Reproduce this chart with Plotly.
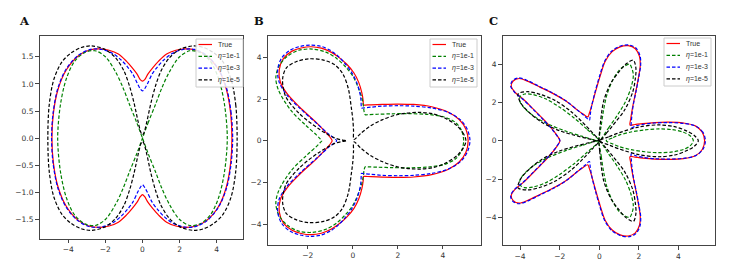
import plotly.graph_objects as go

# The page body keeps the browser's default 8px margin, so the figure is drawn
# 16px smaller and all page-pixel positions are shifted by that offset.
PAGE_W, PAGE_H = 730, 268
OFF = 8
W, H = PAGE_W - 2 * OFF, PAGE_H - 2 * OFF

# ------------------------------------------------------------------ data
# Panel A (peanut / figure-eight shapes)
A_true = [(4.82,0.0),(4.75,0.46),(4.52,0.90),(4.10,1.26),(3.45,1.52),(2.85,1.625),(2.30,1.645),(1.80,1.62),(1.30,1.55),(0.87,1.42),(0.56,1.30),(0.29,1.18),(0.12,1.08),(0.0,1.05),
          (-0.12,1.08),(-0.29,1.18),(-0.56,1.30),(-0.87,1.42),(-1.30,1.55),(-1.80,1.62),(-2.30,1.645),(-2.85,1.625),(-3.45,1.52),(-4.10,1.26),(-4.55,0.90),(-4.80,0.46),(-4.88,0.0),
          (-4.80,-0.46),(-4.55,-0.90),(-4.10,-1.26),(-3.45,-1.52),(-2.85,-1.625),(-2.30,-1.645),(-1.80,-1.62),(-1.30,-1.55),(-0.87,-1.42),(-0.56,-1.30),(-0.29,-1.18),(-0.12,-1.08),(0.0,-1.04),
          (0.12,-1.08),(0.29,-1.18),(0.56,-1.30),(0.87,-1.42),(1.30,-1.55),(1.80,-1.62),(2.30,-1.645),(2.85,-1.625),(3.45,-1.52),(4.10,-1.26),(4.52,-0.90),(4.75,-0.46),(4.82,0.0)]
A_eta1 = [(0,0),(0.30,0.28),(0.70,0.62),(1.05,0.93),(1.45,1.22),(2.00,1.50),(2.55,1.61),(3.10,1.58),(3.65,1.42),(4.10,1.10),(4.42,0.62),(4.57,0),
          (4.42,-0.62),(4.10,-1.10),(3.65,-1.42),(3.10,-1.58),(2.55,-1.61),(2.00,-1.50),(1.45,-1.22),(1.05,-0.93),(0.70,-0.62),(0.30,-0.28),(0,0),
          (-0.30,0.28),(-0.70,0.62),(-1.05,0.93),(-1.45,1.22),(-2.00,1.50),(-2.55,1.61),(-3.10,1.58),(-3.65,1.42),(-4.10,1.10),(-4.42,0.62),(-4.57,0),
          (-4.42,-0.62),(-4.10,-1.10),(-3.65,-1.42),(-3.10,-1.58),(-2.55,-1.61),(-2.00,-1.50),(-1.45,-1.22),(-1.05,-0.93),(-0.70,-0.62),(-0.30,-0.28),(0,0)]
A_eta3 = [(4.86,0),(4.78,0.46),(4.54,0.91),(4.10,1.27),(3.45,1.53),(2.80,1.635),(2.20,1.635),(1.60,1.56),(1.15,1.44),(0.80,1.31),(0.52,1.18),(0.25,0.99),(0.12,0.91),(0,0.87),
          (-0.12,0.91),(-0.25,0.99),(-0.52,1.18),(-0.80,1.31),(-1.15,1.44),(-1.60,1.56),(-2.20,1.635),(-2.80,1.635),(-3.45,1.53),(-4.12,1.27),(-4.57,0.91),(-4.82,0.46),(-4.90,0),
          (-4.82,-0.46),(-4.57,-0.91),(-4.12,-1.27),(-3.45,-1.53),(-2.80,-1.635),(-2.20,-1.635),(-1.60,-1.56),(-1.15,-1.44),(-0.80,-1.31),(-0.52,-1.18),(-0.25,-0.99),(-0.12,-0.91),(0,-0.86),
          (0.12,-0.91),(0.25,-0.99),(0.52,-1.18),(0.80,-1.31),(1.15,-1.44),(1.60,-1.56),(2.20,-1.635),(2.80,-1.635),(3.45,-1.53),(4.10,-1.27),(4.54,-0.91),(4.78,-0.46),(4.86,0)]
A_eta5 = [(5.10,0),(5.03,0.60),(4.78,1.08),(4.35,1.40),(3.85,1.57),(3.30,1.67),(2.75,1.70),(2.05,1.64),(1.45,1.48),(1.00,1.24),(0.70,0.96),(0.45,0.64),(0.22,0.28),(0.08,0.10),(0,0.06),
          (-0.08,0.10),(-0.22,0.28),(-0.45,0.64),(-0.70,0.96),(-1.00,1.24),(-1.45,1.48),(-2.05,1.64),(-2.75,1.70),(-3.30,1.67),(-3.85,1.57),(-4.35,1.40),(-4.78,1.08),(-5.03,0.60),(-5.10,0),
          (-5.03,-0.60),(-4.78,-1.08),(-4.35,-1.40),(-3.85,-1.57),(-3.30,-1.67),(-2.75,-1.70),(-2.05,-1.64),(-1.45,-1.48),(-1.00,-1.24),(-0.70,-0.96),(-0.45,-0.64),(-0.22,-0.28),(-0.08,-0.10),(0,-0.06),
          (0.08,-0.10),(0.22,-0.28),(0.45,-0.64),(0.70,-0.96),(1.00,-1.24),(1.45,-1.48),(2.05,-1.64),(2.75,-1.70),(3.30,-1.67),(3.85,-1.57),(4.35,-1.40),(4.78,-1.08),(5.03,-0.60),(5.10,0)]

# Panel B (three-lobed shapes)
B_true = [(5.12,0),(5.02,0.55),(4.72,1.02),(4.22,1.38),(3.50,1.63),(2.70,1.74),(2.00,1.76),(1.30,1.745),(0.80,1.725),(0.55,1.712),(0.47,1.71),
          (0.46,1.90),(0.40,2.30),(0.26,2.80),(0.05,3.25),(-0.28,3.68),(-0.62,4.00),(-0.95,4.24),(-1.40,4.44),(-1.85,4.51),(-2.30,4.45),(-2.70,4.30),(-3.08,3.95),(-3.27,3.40),(-3.22,2.82),(-2.92,2.26),(-2.37,1.62),(-1.63,0.88),(-1.20,0.40),(-0.98,0.12),(-0.92,0),
          (-0.98,-0.12),(-1.20,-0.40),(-1.63,-0.88),(-2.37,-1.62),(-2.92,-2.26),(-3.22,-2.82),(-3.27,-3.40),(-3.08,-3.95),(-2.70,-4.30),(-2.30,-4.45),(-1.85,-4.51),(-1.40,-4.44),(-0.95,-4.24),(-0.62,-4.00),(-0.28,-3.68),(0.05,-3.25),(0.26,-2.80),(0.40,-2.30),(0.46,-1.90),
          (0.47,-1.71),(0.55,-1.712),(0.80,-1.725),(1.30,-1.745),(2.00,-1.76),(2.70,-1.74),(3.50,-1.63),(4.22,-1.38),(4.72,-1.02),(5.02,-0.55),(5.12,0)]
B_eta1 = [(4.92,0),(4.82,0.50),(4.55,0.88),(4.05,1.14),(3.35,1.26),(2.50,1.30),(1.70,1.29),(1.10,1.27),(0.70,1.255),(0.55,1.25),
          (0.50,1.40),(0.46,1.75),(0.40,2.05),(0.22,2.60),(0.00,3.10),(-0.33,3.55),(-0.72,3.95),(-1.20,4.25),(-1.80,4.40),(-2.40,4.34),(-2.90,4.06),(-3.28,3.58),(-3.42,3.02),(-3.30,2.42),(-2.74,1.44),(-2.07,0.72),(-1.62,0.28),(-1.44,0.08),(-1.38,0),
          (-1.44,-0.08),(-1.62,-0.28),(-2.07,-0.72),(-2.74,-1.44),(-3.30,-2.42),(-3.42,-3.02),(-3.28,-3.58),(-2.90,-4.06),(-2.40,-4.34),(-1.80,-4.40),(-1.20,-4.25),(-0.72,-3.95),(-0.33,-3.55),(0.00,-3.10),(0.22,-2.60),(0.40,-2.05),(0.46,-1.75),(0.50,-1.40),
          (0.55,-1.25),(0.70,-1.255),(1.10,-1.27),(1.70,-1.29),(2.50,-1.30),(3.35,-1.26),(4.05,-1.14),(4.55,-0.88),(4.82,-0.50),(4.92,0)]
B_eta3 = [(5.20,0),(5.08,0.55),(4.78,1.00),(4.26,1.35),(3.50,1.57),(2.70,1.66),(2.00,1.68),(1.30,1.66),(0.80,1.61),(0.50,1.58),(0.38,1.57),
          (0.37,1.70),(0.36,1.95),(0.31,2.30),(0.17,2.80),(-0.05,3.27),(-0.37,3.73),(-0.68,4.08),(-0.98,4.32),(-1.42,4.53),(-1.90,4.59),(-2.36,4.52),(-2.76,4.36),(-3.16,3.97),(-3.34,3.40),(-3.27,2.80),(-2.95,2.22),(-2.35,1.55),(-1.60,0.83),(-1.08,0.32),(-0.80,0.09),(-0.72,0),
          (-0.80,-0.09),(-1.08,-0.32),(-1.60,-0.83),(-2.35,-1.55),(-2.95,-2.22),(-3.27,-2.80),(-3.34,-3.40),(-3.16,-3.97),(-2.76,-4.36),(-2.36,-4.52),(-1.90,-4.59),(-1.42,-4.53),(-0.98,-4.32),(-0.68,-4.08),(-0.37,-3.73),(-0.05,-3.27),(0.17,-2.80),(0.31,-2.30),(0.36,-1.95),(0.37,-1.70),
          (0.38,-1.57),(0.50,-1.58),(0.80,-1.61),(1.30,-1.66),(2.00,-1.68),(2.70,-1.66),(3.50,-1.57),(4.26,-1.35),(4.78,-1.00),(5.08,-0.55),(5.20,0)]
B_eta5 = [(5.02,0),(4.92,0.32),(4.62,0.72),(4.10,1.08),(3.60,1.28),(2.95,1.36),(2.00,1.26),(1.30,1.00),(0.77,0.70),(0.35,0.35),(0.05,0.06),
          (0.03,0.50),(0.00,1.00),(-0.07,1.60),(-0.20,2.50),(-0.45,3.22),(-0.80,3.64),(-1.30,3.87),(-1.95,3.93),(-2.50,3.80),(-2.95,3.50),(-3.12,2.95),(-2.98,2.12),(-2.37,1.30),(-1.50,0.56),(-0.80,0.13),(-0.45,0.03),(-0.28,0),
          (-0.45,-0.03),(-0.80,-0.13),(-1.50,-0.56),(-2.37,-1.30),(-2.98,-2.12),(-3.12,-2.95),(-2.95,-3.50),(-2.50,-3.80),(-1.95,-3.93),(-1.30,-3.87),(-0.80,-3.64),(-0.45,-3.22),(-0.20,-2.50),(-0.07,-1.60),(0.00,-1.00),(0.03,-0.50),
          (0.05,-0.06),(0.35,-0.35),(0.77,-0.70),(1.30,-1.00),(2.00,-1.26),(2.95,-1.36),(3.60,-1.28),(4.10,-1.08),(4.62,-0.72),(4.92,-0.32),(5.02,0)]

# Panel C (five-petal shapes)
C_true = [(5.32,0),(5.20,0.45),(4.85,0.78),(4.25,0.93),(3.50,0.97),(2.80,0.95),(2.20,0.90),(1.80,0.85),(1.55,0.82),
          (1.58,1.10),(1.64,1.50),(1.72,1.95),(1.85,2.60),(1.98,3.30),(2.07,3.95),(2.03,4.40),(1.82,4.80),(1.46,4.96),(1.05,4.90),(0.65,4.65),(0.30,4.15),(0.05,3.40),(-0.18,2.60),(-0.38,1.85),(-0.50,1.45),(-0.58,1.25),
          (-0.80,1.38),(-1.10,1.60),(-1.65,2.05),(-2.40,2.50),(-3.00,2.80),(-3.60,3.10),(-4.05,3.25),(-4.35,3.12),(-4.45,2.85),(-4.25,2.52),(-3.85,2.18),(-3.33,1.65),(-2.85,1.15),(-2.45,0.70),(-2.15,0.30),(-1.99,0),
          (-2.15,-0.30),(-2.45,-0.70),(-2.85,-1.15),(-3.33,-1.65),(-3.85,-2.18),(-4.25,-2.52),(-4.45,-2.85),(-4.35,-3.12),(-4.05,-3.25),(-3.60,-3.10),(-3.00,-2.80),(-2.40,-2.50),(-1.65,-2.05),(-1.10,-1.60),(-0.80,-1.38),
          (-0.58,-1.25),(-0.50,-1.45),(-0.38,-1.85),(-0.18,-2.60),(0.05,-3.40),(0.30,-4.15),(0.65,-4.65),(1.05,-4.90),(1.46,-4.96),(1.82,-4.80),(2.03,-4.40),(2.07,-3.95),(1.98,-3.30),(1.85,-2.60),(1.72,-1.95),(1.64,-1.50),(1.58,-1.10),
          (1.55,-0.82),(1.80,-0.85),(2.20,-0.90),(2.80,-0.95),(3.50,-0.97),(4.25,-0.93),(4.85,-0.78),(5.20,-0.45),(5.32,0)]
C_eta3 = [(5.36,0),(5.23,0.45),(4.87,0.77),(4.25,0.91),(3.50,0.95),(2.80,0.93),(2.20,0.86),(1.85,0.78),(1.62,0.68),
          (1.62,1.00),(1.66,1.45),(1.73,1.95),(1.86,2.60),(1.99,3.30),(2.09,3.95),(2.06,4.42),(1.85,4.84),(1.47,5.00),(1.04,4.93),(0.62,4.67),(0.27,4.15),(0.02,3.40),(-0.20,2.60),(-0.38,1.85),(-0.46,1.35),(-0.50,1.08),
          (-0.75,1.30),(-1.08,1.58),(-1.65,2.06),(-2.40,2.52),(-3.00,2.82),(-3.60,3.13),(-4.07,3.28),(-4.38,3.14),(-4.48,2.86),(-4.27,2.52),(-3.86,2.17),(-3.33,1.63),(-2.85,1.12),(-2.45,0.68),(-2.15,0.28),(-1.99,0),
          (-2.15,-0.28),(-2.45,-0.68),(-2.85,-1.12),(-3.33,-1.63),(-3.86,-2.17),(-4.27,-2.52),(-4.48,-2.86),(-4.38,-3.14),(-4.07,-3.28),(-3.60,-3.13),(-3.00,-2.82),(-2.40,-2.52),(-1.65,-2.06),(-1.08,-1.58),(-0.75,-1.30),
          (-0.50,-1.08),(-0.46,-1.35),(-0.38,-1.85),(-0.20,-2.60),(0.02,-3.40),(0.27,-4.15),(0.62,-4.67),(1.04,-4.93),(1.47,-5.00),(1.85,-4.84),(2.06,-4.42),(2.09,-3.95),(1.99,-3.30),(1.86,-2.60),(1.73,-1.95),(1.66,-1.45),(1.62,-1.00),
          (1.62,-0.68),(1.85,-0.78),(2.20,-0.86),(2.80,-0.93),(3.50,-0.95),(4.25,-0.91),(4.87,-0.77),(5.23,-0.45),(5.36,0)]
C_eta1_petals = [
    [(0.35,0),(0.70,0.17),(1.00,0.30),(1.60,0.46),(2.30,0.57),(3.00,0.62),(3.70,0.58),(4.25,0.45),(4.60,0.25),(4.75,0),(4.60,-0.25),(4.25,-0.45),(3.70,-0.58),(3.00,-0.62),(2.30,-0.57),(1.60,-0.46),(1.00,-0.30),(0.70,-0.17),(0.35,0)],
    [(0,0),(0.47,0.68),(0.93,1.36),(1.33,2.06),(1.61,2.81),(1.72,3.41),(1.65,3.76),(1.53,3.99),(1.28,3.90),(1.01,3.69),(0.68,3.17),(0.39,2.42),(0.22,1.63),(0.10,0.82),(0,0)],
    [(0,0),(-0.63,0.61),(-1.27,1.19),(-2.00,1.75),(-2.72,2.19),(-3.35,2.41),(-3.76,2.44),(-4.00,2.30),(-4.00,2.02),(-3.76,1.68),(-3.26,1.25),(-2.51,0.84),(-1.67,0.50),(-0.85,0.23),(0,0)],
    [(0,0),(-0.85,-0.23),(-1.67,-0.50),(-2.51,-0.84),(-3.26,-1.25),(-3.76,-1.68),(-4.00,-2.02),(-4.00,-2.30),(-3.76,-2.44),(-3.35,-2.41),(-2.72,-2.19),(-2.00,-1.75),(-1.27,-1.19),(-0.63,-0.61),(0,0)],
    [(0,0),(0.10,-0.82),(0.22,-1.63),(0.39,-2.42),(0.68,-3.17),(1.01,-3.69),(1.28,-3.90),(1.53,-3.99),(1.65,-3.76),(1.72,-3.41),(1.61,-2.81),(1.33,-2.06),(0.93,-1.36),(0.47,-0.68),(0,0)],
]
C_eta5_petals = [
    [(0,0),(0.50,0.22),(1.00,0.42),(2.00,0.72),(3.00,0.83),(3.80,0.74),(4.40,0.52),(4.80,0.28),(5.00,0),(4.80,-0.28),(4.40,-0.52),(3.80,-0.74),(3.00,-0.83),(2.00,-0.72),(1.00,-0.42),(0.50,-0.22),(0,0)],
    [(0,0),(0.36,0.40),(0.68,0.80),(1.29,1.63),(1.69,2.55),(1.82,3.25),(1.85,3.78),(1.72,4.20),(1.33,3.99),(0.99,3.59),(0.58,3.00),(0.22,2.07),(0.07,1.05),(0.02,0.53),(0,0)],
    [(0,0),(-0.34,0.41),(-0.69,0.80),(-1.42,1.52),(-2.24,2.11),(-2.98,2.42),(-3.60,2.56),(-4.10,2.45),(-3.96,1.96),(-3.54,1.48),(-2.91,0.97),(-2.01,0.53),(-1.03,0.23),(-0.52,0.10),(0,0)],
    [(0,0),(-0.52,-0.10),(-1.03,-0.23),(-2.01,-0.53),(-2.91,-0.97),(-3.54,-1.48),(-3.96,-1.96),(-4.10,-2.45),(-3.60,-2.56),(-2.98,-2.42),(-2.24,-2.11),(-1.42,-1.52),(-0.69,-0.80),(-0.34,-0.41),(0,0)],
    [(0,0),(0.02,-0.53),(0.07,-1.05),(0.22,-2.07),(0.58,-3.00),(0.99,-3.59),(1.33,-3.99),(1.72,-4.20),(1.85,-3.78),(1.82,-3.25),(1.69,-2.55),(1.29,-1.63),(0.68,-0.80),(0.36,-0.40),(0,0)],
]

series_names = ["True", "<i>η</i>=1e-1", "<i>η</i>=1e-3", "<i>η</i>=1e-5"]
series_colors = ["#ff0000", "#008000", "#0000ff", "#000000"]
series_dash = ["solid", "3.5px,2px", "3.5px,2px", "3.5px,2px"]

panel_letters = ["A", "B", "C"]
A_xticks = [-4, -2, 0, 2, 4]
A_yticks = [-1.5, -1.0, -0.5, 0.0, 0.5, 1.0, 1.5]
B_xticks = [-2, 0, 2, 4]
B_yticks = [-4, -2, 0, 2, 4]
C_xticks = [-4, -2, 0, 2, 4]
C_yticks = [-4, -2, 0, 2, 4]

# ------------------------------------------------------------------ layout geometry (page pixels)
frames = {  # left, right, top, bottom
    "A": (39.5, 242.5, 35.7, 238.5),
    "B": (267.5, 481.0, 35.7, 244.5),
    "C": (502.5, 715.3, 35.7, 245.0),
}
ranges = {
    "A": ([-5.55, 5.39], [-1.85, 1.888]),
    "B": ([-3.79, 5.69], [-4.98, 5.04]),
    "C": ([-4.89, 5.86], [-5.43, 5.48]),
}
legend_boxes = {"A": (196, 39), "B": (430, 39), "C": (664, 38)}
letter_x = {"A": 17, "B": 252, "C": 487}


def fx(p):  # page px -> paper x
    return (p - OFF) / W


def fy(p):  # page px -> paper y
    return 1 - (p - OFF) / H


def split(pts):
    xs, ys = [], []
    for p in pts:
        if p is None:
            xs.append(None); ys.append(None)
        else:
            xs.append(p[0]); ys.append(p[1])
    return xs, ys


def join(petals):
    out = []
    for i, pet in enumerate(petals):
        if i:
            out.append(None)
        out.extend(pet)
    return out


panels = {
    "A": [A_true, A_eta1, A_eta3, A_eta5],
    "B": [B_true, B_eta1, B_eta3, B_eta5],
    "C": [C_true, join(C_eta1_petals), C_eta3, join(C_eta5_petals)],
}
ticks = {"A": (A_xticks, A_yticks), "B": (B_xticks, B_yticks), "C": (C_xticks, C_yticks)}

fig = go.Figure()


def fmt(v, dec):
    s = f"{abs(v):.{dec}f}" if dec else f"{abs(int(v))}"
    return ("\u2212" + s) if v < 0 else s


for k, key in enumerate(["A", "B", "C"]):
    xa = "x" if k == 0 else f"x{k+1}"
    ya = "y" if k == 0 else f"y{k+1}"
    for i, pts in enumerate(panels[key]):
        x, y = split(pts)
        fig.add_trace(go.Scatter(
            x=x, y=y, mode="lines", xaxis=xa, yaxis=ya, showlegend=False,
            hoverinfo="skip", connectgaps=False,
            line=dict(color=series_colors[i], width=1.2, dash=series_dash[i],
                      shape="spline", smoothing=0.9)))

axis_common = dict(showline=True, linecolor="#444", linewidth=1, mirror=True,
                   ticks="outside", ticklen=3.5, tickwidth=0.8, tickcolor="#444",
                   showgrid=False, zeroline=False, automargin=False,
                   tickfont=dict(size=7.5, color="#333", family="DejaVu Sans"))

shapes, annotations = [], []
for k, key in enumerate(["A", "B", "C"]):
    l, r, t, b = frames[key]
    xr, yr = ranges[key]
    xt, yt = ticks[key]
    ydec = 1 if key == "A" else 0
    xname = "xaxis" if k == 0 else f"xaxis{k+1}"
    yname = "yaxis" if k == 0 else f"yaxis{k+1}"
    xa = "x" if k == 0 else f"x{k+1}"
    ya = "y" if k == 0 else f"y{k+1}"
    fig.layout[xname] = dict(axis_common, domain=[fx(l), fx(r)], range=xr, anchor=ya,
                             tickvals=xt, ticktext=[fmt(v, 0) for v in xt])
    fig.layout[yname] = dict(axis_common, domain=[fy(b), fy(t)], range=yr, anchor=xa,
                             tickvals=yt, ticktext=[fmt(v, ydec) for v in yt])
    # panel letter
    annotations.append(dict(text=f"<b>{panel_letters[k]}</b>", xref="paper", yref="paper",
                            x=fx(letter_x[key]), y=fy(21),
                            xanchor="left", yanchor="middle", showarrow=False,
                            font=dict(size=11.5, family="DejaVu Serif", color="#111")))
    # legend (drawn by hand to match matplotlib's compact legend)
    bx, by = legend_boxes[key]
    bw, bh = 47, 48
    shapes.append(dict(type="rect", xref="paper", yref="paper", layer="above",
                       x0=fx(bx), x1=fx(bx + bw), y0=fy(by + bh), y1=fy(by),
                       line=dict(color="#cccccc", width=1), fillcolor="rgba(255,255,255,0.85)"))
    for i in range(4):
        cy = by + 5.5 + i * 11.8
        shapes.append(dict(type="line", xref="paper", yref="paper", layer="above",
                           x0=fx(bx + 2.5), x1=fx(bx + 16), y0=fy(cy), y1=fy(cy),
                           line=dict(color=series_colors[i], width=1.2, dash=series_dash[i])))
        annotations.append(dict(text=series_names[i], xref="paper", yref="paper",
                                x=fx(bx + 19.5), y=fy(cy), xanchor="left", yanchor="middle",
                                showarrow=False, font=dict(size=7, family="Liberation Sans", color="#333")))

fig.update_layout(width=W, height=H, margin=dict(l=0, r=0, t=0, b=0),
                  paper_bgcolor="white", plot_bgcolor="white",
                  shapes=shapes, annotations=annotations, showlegend=False)

fig.write_html("out.html")
